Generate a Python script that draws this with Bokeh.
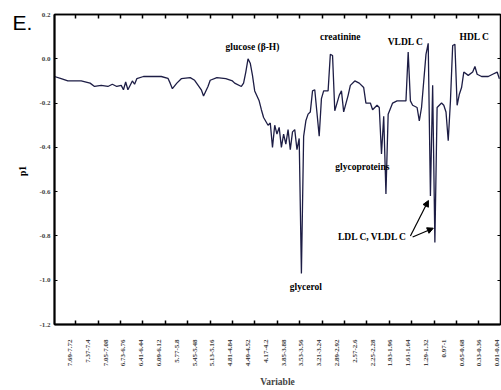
import math
from bokeh.plotting import figure
from bokeh.layouts import row
from bokeh.models import (FixedTicker, LinearAxis, Label, Arrow, NormalHead,
                          Range1d, NumeralTickFormatter)
from bokeh.embed import file_html
from bokeh.resources import INLINE

# ---- data (variable index, loading p1) ----
var_idx = [0, 3, 6, 12, 16, 18, 21, 24, 26, 28, 30, 31, 32, 33, 35, 36, 37, 40, 43, 48,
           51, 52, 53, 55, 57, 61, 63, 66, 67, 69, 70, 73, 77, 80, 81, 84, 85, 86, 87, 88,
           89, 90, 92, 93, 94, 96, 97, 98, 99, 100, 101, 102, 103, 104, 105, 106, 107, 108, 109, 110,
           111, 112, 113, 114, 115, 116, 117, 119, 120, 121, 123, 124, 125, 126, 128, 129, 130, 132, 133, 135,
           137, 139, 140, 142, 143, 145, 146, 147, 148, 149, 150, 152, 154, 157, 158, 159, 160, 161, 163, 164,
           165, 167, 168, 169, 170, 171, 172, 174, 175, 176, 177, 178, 179, 180, 181, 182, 183, 184, 186, 188,
           189, 190, 192, 195, 197, 199, 200]
p1 = [-0.08, -0.09, -0.10, -0.10, -0.11, -0.125, -0.12, -0.125, -0.115, -0.125, -0.12, -0.14, -0.105, -0.14, -0.10, -0.115, -0.09, -0.08, -0.08, -0.08,
      -0.088, -0.11, -0.135, -0.11, -0.09, -0.085, -0.097, -0.14, -0.168, -0.125, -0.097, -0.085, -0.09, -0.10, -0.11, -0.125, -0.11, -0.06, 0.0, -0.02,
      -0.075, -0.145, -0.19, -0.23, -0.265, -0.30, -0.29, -0.40, -0.30, -0.34, -0.31, -0.40, -0.34, -0.385, -0.32, -0.41, -0.33, -0.32, -0.41, -0.36,
      -0.97, -0.35, -0.28, -0.25, -0.24, -0.145, -0.14, -0.35, -0.18, -0.145, -0.145, 0.02, 0.015, -0.235, -0.165, -0.145, -0.24, -0.165, -0.12, -0.10,
      -0.11, -0.13, -0.20, -0.20, -0.23, -0.21, -0.22, -0.43, -0.26, -0.61, -0.25, -0.20, -0.19, -0.19, -0.19, 0.03, -0.19, -0.21, -0.22, -0.28,
      -0.22, 0.02, 0.07, -0.62, -0.12, -0.83, -0.22, -0.20, -0.21, -0.24, -0.37, -0.19, 0.06, 0.065, -0.21, -0.16, -0.13, -0.06, -0.075, -0.06,
      -0.035, -0.07, -0.08, -0.08, -0.07, -0.06, -0.09]

x_labels = ["7.69-7.72", "7.37-7.4", "7.05-7.08", "6.73-6.76", "6.41-6.44", "6.09-6.12",
            "5.77-5.8", "5.45-5.48", "5.13-5.16", "4.81-4.84", "4.49-4.52", "4.17-4.2",
            "3.85-3.88", "3.53-3.56", "3.21-3.24", "2.89-2.92", "2.57-2.6", "2.25-2.28",
            "1.93-1.96", "1.61-1.64", "1.29-1.32", "0.97-1", "0.65-0.68", "0.33-0.36", "0.01-0.04"]
x_label_pos = [7 + 8 * i for i in range(len(x_labels))]
y_ticks = [-1.2, -1.0, -0.8, -0.6, -0.4, -0.2, 0.0, 0.2]

annotations = [("glucose (\u03b2-H)", 89, 0.053), ("creatinine", 128.5, 0.097),
               ("VLDL C", 157.8, 0.075), ("HDL C", 188.8, 0.10),
               ("glycoproteins", 138.4, -0.487), ("glycerol", 113, -1.03),
               ("LDL C, VLDL C", 143, -0.805)]

SERIF = "Liberation Serif"
minor_pos = [9.5 + 10.07 * k for k in range(20)]

# ---- left strip: panel letter and y-axis title (its frame aligns with the main frame) ----
lf = figure(width=34, height=390, output_backend="svg", toolbar_location=None,
            x_range=Range1d(0, 34), y_range=Range1d(331, 14),
            x_axis_location=None, y_axis_location=None, min_border=0,
            min_border_top=14, min_border_bottom=59)
lf.outline_line_color = None
lf.xgrid.visible = False
lf.ygrid.visible = False
lf.add_layout(Label(x=12, y=22, text="E.", text_font="Liberation Sans",
                    text_font_size="21px", text_baseline="alphabetic", text_color="black"))
lf.add_layout(Label(x=22, y=174, text="p1", angle=math.pi / 2, text_align="center",
                    text_baseline="middle", text_font=SERIF, text_font_style="bold",
                    text_font_size="9.5px", text_color="black"))

# ---- main chart ----
p = figure(width=467, height=390, output_backend="svg", toolbar_location=None,
           x_range=Range1d(0, 200.5), y_range=Range1d(-1.2, 0.2),
           min_border_left=20, min_border_right=1, min_border_top=14, min_border_bottom=59)
p.background_fill_color = "white"
p.border_fill_color = "white"
p.outline_line_color = "black"
p.outline_line_width = 1.5
p.xgrid.visible = False
p.ygrid.visible = False

p.line(var_idx, p1, line_color="#1d1d45", line_width=1.3)

# bottom axis
xa = p.xaxis[0]
xa.ticker = FixedTicker(ticks=x_label_pos, minor_ticks=minor_pos)
xa.major_label_overrides = {pos: lab for pos, lab in zip(x_label_pos, x_labels)}
xa.major_label_orientation = math.pi / 2
xa.major_tick_line_color = None
xa.minor_tick_in = 4
xa.minor_tick_out = 0
xa.minor_tick_line_width = 1.5
xa.axis_line_width = 2
xa.major_label_text_font = SERIF
xa.major_label_text_font_style = "bold"
xa.major_label_text_font_size = "7px"
xa.major_label_standoff = 9
xa.axis_label = "Variable"
xa.axis_label_text_font = SERIF
xa.axis_label_text_font_style = "bold"
xa.axis_label_text_font_size = "9.5px"
xa.axis_label_standoff = 8

# left axis
ya = p.yaxis[0]
ya.ticker = FixedTicker(ticks=y_ticks)
ya.formatter = NumeralTickFormatter(format="0.0")
ya.major_tick_in = 3
ya.major_tick_out = 0
ya.minor_tick_line_color = None
ya.axis_line_width = 2
ya.major_label_text_font = SERIF
ya.major_label_text_font_style = "bold"
ya.major_label_text_font_size = "7px"
ya.major_label_standoff = 4

# top and right axes: tick marks only (drawn as minor ticks, no labels)
top = LinearAxis(ticker=FixedTicker(ticks=[], minor_ticks=minor_pos),
                 major_label_standoff=0, major_tick_line_color=None,
                 minor_tick_in=4, minor_tick_out=0, minor_tick_line_width=1.5,
                 axis_line_width=1.5)
p.add_layout(top, "above")
right = LinearAxis(ticker=FixedTicker(ticks=[], minor_ticks=y_ticks),
                   major_label_standoff=0, major_tick_line_color=None,
                   minor_tick_in=3, minor_tick_out=0, minor_tick_line_width=1.2)
p.add_layout(right, "right")

for txt, x, y in annotations:
    p.add_layout(Label(x=x, y=y, text=txt, text_align="center", text_baseline="middle",
                       text_font=SERIF, text_font_style="bold", text_font_size="9.5px",
                       text_color="black"))

p.add_layout(Arrow(end=NormalHead(size=6, fill_color="black", line_color="black"),
                   x_start=160, y_start=-0.80, x_end=168.1, y_end=-0.64,
                   line_color="black", line_width=1.2))
p.add_layout(Arrow(end=NormalHead(size=6, fill_color="black", line_color="black"),
                   x_start=161, y_start=-0.805, x_end=170.3, y_end=-0.765,
                   line_color="black", line_width=1.2))

layout = row(lf, p, spacing=0)
open("out.html", "w").write(file_html(layout, INLINE))
